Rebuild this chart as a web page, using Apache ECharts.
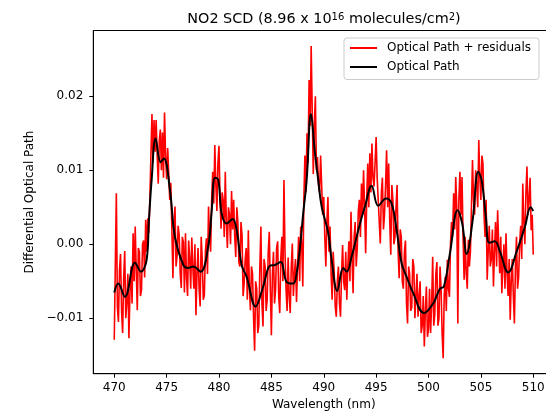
<!DOCTYPE html>
<html>
<head>
<meta charset="utf-8">
<script src="https://cdn.jsdelivr.net/npm/echarts@6/dist/echarts.min.js"></script>
<style>
html,body{margin:0;padding:0;background:#fff;}
#c{width:546px;height:413px;}
</style>
</head>
<body>
<div id="c"></div>
<script>
// ---- data ----
const xTicks = [470, 475, 480, 485, 490, 495, 500, 505, 510];
const yTicks = [-0.01, 0.00, 0.01, 0.02];
const seriesNames = ['Optical Path + residuals', 'Optical Path'];

// Optical Path (smooth fitted curve): wavelength (nm) and value
const fitWavelength = [470.0,470.38,471.02,471.98,472.55,473.09,473.3,473.57,473.95,474.43,474.74,475.32,475.79,476.59,477.06,477.54,478.25,478.97,479.3,479.61,479.93,480.25,480.73,481.30,481.69,482.16,482.64,483.50,484.22,484.86,485.34,485.89,486.46,487.09,487.41,487.75,488.04,488.37,488.78,489.15,489.47,489.80,490.43,490.75,491.29,491.86,492.19,492.66,493.46,493.93,494.57,495.20,495.94,496.48,496.96,497.44,497.91,498.54,499.57,500.45,501.09,501.47,502.05,502.78,503.22,503.64,504.22,504.75,505.07,505.48,505.80,506.34,506.82,507.61,508.41,509.21,509.75,510.0];
const fitValue = [-0.0065,-0.0053,-0.0071,-0.0025,-0.0037,-0.0021,0.0030,0.0087,0.0143,0.0111,0.0116,0.0073,0.0010,-0.0028,-0.0032,-0.0030,-0.0037,-0.0003,0.0045,0.0090,0.0087,0.0042,0.0028,0.0034,0.0019,-0.0028,-0.0044,-0.0084,-0.0057,-0.0029,-0.0028,-0.0024,-0.0051,-0.0053,-0.0039,-0.0002,0.0042,0.0087,0.0176,0.0125,0.0087,0.0051,0.0015,-0.0021,-0.0063,-0.0032,-0.0037,-0.0017,0.0028,0.0051,0.0079,0.0052,0.0062,0.0055,0.0019,-0.0026,-0.0044,-0.0066,-0.0093,-0.0080,-0.0060,-0.0057,-0.0012,0.0046,0.0028,-0.0013,0.0033,0.0098,0.0087,0.0037,0.0002,0.0004,-0.0010,-0.0038,-0.0010,0.0024,0.0050,0.0045];

// Optical Path + residuals: sampled every 0.1 nm from 470.0 nm (one row per nm)
const residualStart = 470.0;
const residualStep = 0.1;
const residualValue = [
-0.0129,-0.0030,0.0069,-0.0085,-0.0105,-0.0035,-0.0013,-0.0090,-0.0120,-0.0045,
-0.0009,-0.0100,-0.0078,-0.0040,-0.0127,-0.0065,-0.0030,-0.0080,0.0015,-0.0050,
0.0024,-0.0035,-0.0089,-0.0005,-0.0010,-0.0070,-0.0062,0.0000,0.0005,-0.0045,
0.0033,-0.0010,0.0035,0.0015,0.0060,0.0120,0.0176,0.0110,0.0168,0.0125,
0.0168,0.0120,0.0082,0.0140,0.0155,0.0100,0.0151,0.0090,0.0178,0.0120,
0.0088,0.0130,0.0132,0.0060,0.0083,0.0020,-0.0046,0.0030,0.0051,-0.0030,
-0.0015,0.0025,0.0012,-0.0040,-0.0059,0.0010,0.0003,-0.0065,0.0015,-0.0045,
-0.0070,0.0005,-0.0018,-0.0060,0.0009,-0.0030,-0.0060,0.0000,-0.0096,-0.0040,
-0.0005,-0.0060,-0.0084,0.0010,-0.0020,-0.0075,-0.0069,-0.0010,0.0008,-0.0040,
0.0051,0.0010,-0.0010,0.0060,0.0098,0.0055,0.0134,0.0080,0.0045,0.0110,
0.0133,0.0060,0.0021,0.0070,0.0060,0.0010,0.0098,0.0030,-0.0005,0.0050,
0.0040,0.0000,0.0072,0.0020,0.0060,0.0010,-0.0017,0.0050,0.0030,-0.0025,
-0.0030,0.0030,0.0012,-0.0070,-0.0053,-0.0020,-0.0005,-0.0075,0.0019,-0.0060,
-0.0089,-0.0030,-0.0040,-0.0100,-0.0144,-0.0050,-0.0060,-0.0120,-0.0110,-0.0030,
0.0024,-0.0080,-0.0111,-0.0020,-0.0030,-0.0090,-0.0075,-0.0010,0.0017,-0.0060,
-0.0123,-0.0040,-0.0010,-0.0080,-0.0062,-0.0005,0.0004,-0.0070,-0.0093,-0.0020,
0.0010,-0.0050,0.0087,-0.0010,-0.0060,-0.0090,-0.0018,-0.0070,-0.0093,-0.0030,
0.0001,-0.0070,-0.0040,-0.0020,-0.0078,-0.0030,0.0010,-0.0050,0.0024,0.0000,
-0.0057,0.0060,0.0120,0.0070,0.0150,0.0110,0.0222,0.0160,0.0268,0.0180,
0.0095,0.0160,0.0200,0.0100,0.0118,0.0080,0.0070,0.0120,0.0118,0.0040,
0.0064,0.0010,-0.0030,0.0030,0.0064,-0.0010,0.0024,-0.0040,-0.0075,-0.0010,
-0.0040,-0.0085,-0.0098,-0.0050,-0.0030,-0.0080,-0.0098,-0.0040,-0.0001,-0.0050,
-0.0062,-0.0010,-0.0075,-0.0030,0.0004,-0.0050,0.0044,-0.0020,-0.0066,0.0010,
0.0030,-0.0030,-0.0005,0.0045,0.0060,0.0010,0.0082,0.0040,0.0100,0.0050,
-0.0012,0.0060,0.0109,0.0050,0.0123,0.0070,0.0136,0.0090,0.0078,0.0110,
0.0145,0.0090,0.0060,0.0030,0.0001,0.0070,0.0090,0.0020,0.0040,0.0080,
0.0127,0.0050,0.0109,0.0030,-0.0014,0.0080,0.0060,0.0000,0.0010,0.0050,
0.0080,-0.0010,-0.0046,0.0020,0.0010,-0.0050,-0.0060,-0.0010,0.0005,-0.0080,
-0.0107,-0.0030,-0.0040,-0.0090,-0.0085,-0.0020,-0.0030,-0.0100,-0.0070,-0.0040,
-0.0098,-0.0070,-0.0050,-0.0120,-0.0110,-0.0070,-0.0138,-0.0090,-0.0057,-0.0125,
-0.0115,-0.0060,-0.0120,-0.0080,-0.0017,-0.0110,-0.0095,-0.0040,-0.0024,-0.0110,
-0.0100,-0.0030,-0.0060,-0.0120,-0.0154,-0.0070,-0.0044,-0.0090,-0.0021,-0.0060,
-0.0071,0.0000,0.0030,0.0010,0.0069,0.0020,0.0091,0.0050,-0.0107,0.0060,
0.0098,0.0040,0.0091,0.0010,-0.0048,0.0010,-0.0039,-0.0060,0.0006,-0.0030,
-0.0010,0.0050,0.0114,0.0060,0.0040,0.0100,0.0080,0.0050,0.0141,0.0090,
0.0060,0.0120,0.0109,0.0040,0.0010,0.0060,-0.0048,-0.0010,0.0025,-0.0030,
-0.0020,0.0020,-0.0057,-0.0010,0.0030,-0.0030,0.0046,0.0000,-0.0039,0.0010,
-0.0066,-0.0030,0.0000,-0.0060,0.0015,-0.0040,-0.0070,-0.0020,-0.0102,-0.0050,
-0.0020,-0.0070,-0.0107,-0.0030,0.0010,-0.0060,-0.0045,0.0000,0.0025,-0.0020,
0.0082,0.0030,0.0000,0.0070,0.0105,0.0040,0.0060,0.0090,0.0019,0.0040,
-0.0014
];

// ---- build ----
const residualData = residualValue.map((v, i) => [+(residualStart + i * residualStep).toFixed(2), v]);
const fitData = fitWavelength.map((w, i) => [w, fitValue[i]]);
const FONT = 'DejaVu Sans';
const fmtY = v => (v < 0 ? '\u2212' : '') + Math.abs(v).toFixed(2);

const chart = echarts.init(document.getElementById('c'), null, {renderer: 'canvas'});
chart.setOption({
  animation: false,
  backgroundColor: '#fff',
  textStyle: {fontFamily: FONT},
  grid: {left: 93.3, top: 30.5, width: 460.9, height: 343.2, show: true,
         borderColor: '#000', borderWidth: 1, backgroundColor: 'transparent',
         containLabel: false, outerBoundsMode: 'none'},
  xAxis: {
    type: 'value', min: 468, max: 512,
    name: 'Wavelength (nm)', nameLocation: 'middle', nameGap: 25,
    nameTextStyle: {fontSize: 12, color: '#000', fontFamily: FONT},
    axisLine: {show: true, onZero: false, lineStyle: {color: '#000', width: 1}},
    axisTick: {show: true, length: 4, customValues: xTicks, lineStyle: {color: '#000', width: 1}},
    axisLabel: {customValues: xTicks, fontSize: 12, color: '#000', margin: 8, fontFamily: FONT},
    splitLine: {show: false}
  },
  yAxis: {
    type: 'value', min: -0.01749, max: 0.02889,
    name: 'Differential Optical Path', nameLocation: 'middle', nameGap: 53,
    nameTextStyle: {fontSize: 12, color: '#000', fontFamily: FONT},
    axisLine: {show: true, onZero: false, lineStyle: {color: '#000', width: 1}},
    axisTick: {show: true, length: 4, customValues: yTicks, lineStyle: {color: '#000', width: 1}},
    axisLabel: {customValues: yTicks, fontSize: 12, color: '#000', margin: 10, fontFamily: FONT, formatter: fmtY},
    splitLine: {show: false}
  },
  legend: {
    show: true, orient: 'vertical', left: 344, top: 38,
    padding: [3, 8, 5.5, 6], itemWidth: 27, itemHeight: 2, itemGap: 5, icon: 'rect',
    borderColor: '#cccccc', borderWidth: 1, borderRadius: 3,
    backgroundColor: 'rgba(255,255,255,0.8)',
    textStyle: {fontSize: 12, color: '#000', lineHeight: 14, fontFamily: FONT, padding: [0, 0, 0, 5]},
    data: seriesNames
  },
  graphic: [{
    type: 'text', x: 324, y: 19, z: 10,
    style: {
      text: '{a|NO2 SCD (8.96 x 10}{s|16}{a| molecules/cm}{s|2}{a|)}',
      align: 'center', verticalAlign: 'middle',
      rich: {
        a: {fontSize: 14.4, fontFamily: FONT, fill: '#000'},
        s: {fontSize: 10, fontFamily: FONT, fill: '#000', verticalAlign: 'top'}
      }
    }
  }],
  series: [
    {type: 'line', name: seriesNames[0], data: residualData, symbol: 'none', showSymbol: false,
     lineStyle: {color: '#ff0000', width: 1.6}, itemStyle: {color: '#ff0000'}, z: 2, clip: true},
    {type: 'line', name: seriesNames[1], data: fitData, symbol: 'none', showSymbol: false, smooth: 0.4,
     lineStyle: {color: '#000000', width: 2}, itemStyle: {color: '#000000'}, z: 3, clip: true}
  ]
});
</script>
</body>
</html>
